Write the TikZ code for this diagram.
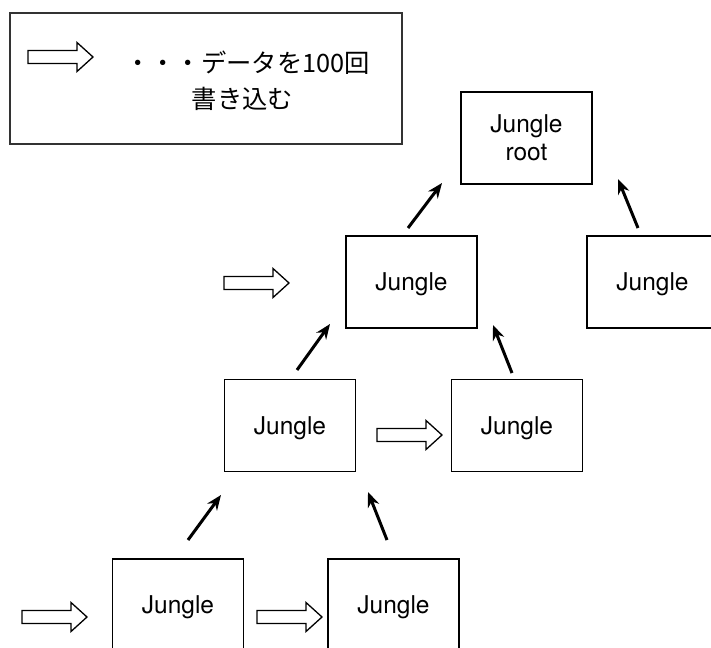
\documentclass[tikz,border=0pt]{standalone}
\usepackage{fontspec}
\setmainfont{TeX Gyre Heros}
\newfontfamily\jp{Noto Sans CJK JP}
\usetikzlibrary{arrows.meta}
\tikzset{
  box/.style={draw, line width=1.3pt, minimum width=131pt, minimum height=92pt, inner sep=0pt, align=center, text depth=0pt, font=\fontsize{24.5}{28}\selectfont},
  legendbox/.style={draw=black!80, line width=1.3pt, minimum width=392pt, minimum height=131pt, inner sep=0pt},
  legtext/.style={inner sep=0pt, font=\jp\fontsize{25.3}{28}\selectfont},
  thick arrow/.style={line width=3pt, -{Stealth[length=15pt,width=12pt]}},
  hollow/.style={draw, line width=1.3pt, fill=white, line join=miter}
}
\newcommand{\hollowarrow}[2]{%
  \draw[hollow] (#1,#2-6.5) -- ++(49,0) -- ++(0,-8) -- ++(16,14.5) -- ++(-16,14.5) -- ++(0,-8) -- ++(-49,0) -- cycle;}
\begin{document}
\begin{tikzpicture}[x=1pt,y=-1pt]
\useasboundingbox (0,0) rectangle (711,647);
\clip (0,0) rectangle (711,647);
% legend
\node[legendbox] (legend) at (206,78.5) {};
\node[legtext] (leg1) at (247.5,63) {・・・データを100回};
\node[legtext] (leg2) at (242.5,99) {書き込む};
\hollowarrow{28}{57}
% boxes
\node[box] (root) at (526.5,138) {Jungle\\root};
\node[box] (j2a) at (411.5,282) {Jungle};
\node[box] (j2b) at (652.5,282) {Jungle};
\node[box] (j3a) at (290,425.5) {Jungle};
\node[box] (j3b) at (517,425.5) {Jungle};
\node[box] (j4a) at (178,605) {Jungle};
\node[box] (j4b) at (393.5,605) {Jungle};
% hollow arrows
\hollowarrow{224}{283}
\hollowarrow{377}{435}
\hollowarrow{22}{617}
\hollowarrow{257}{617}
% thick arrows
\coordinate (a1s) at (408,228); \coordinate (a1e) at (442,183);
\coordinate (a2s) at (638,228); \coordinate (a2e) at (618,179);
\coordinate (a3s) at (297,370); \coordinate (a3e) at (330,324);
\coordinate (a4s) at (512,373); \coordinate (a4e) at (493,325);
\coordinate (a5s) at (188,540); \coordinate (a5e) at (221,495);
\coordinate (a6s) at (387,540); \coordinate (a6e) at (368,492);
\draw[thick arrow] (a1s) -- (a1e);
\draw[thick arrow] (a2s) -- (a2e);
\draw[thick arrow] (a3s) -- (a3e);
\draw[thick arrow] (a4s) -- (a4e);
\draw[thick arrow] (a5s) -- (a5e);
\draw[thick arrow] (a6s) -- (a6e);
\end{tikzpicture}
\end{document}
